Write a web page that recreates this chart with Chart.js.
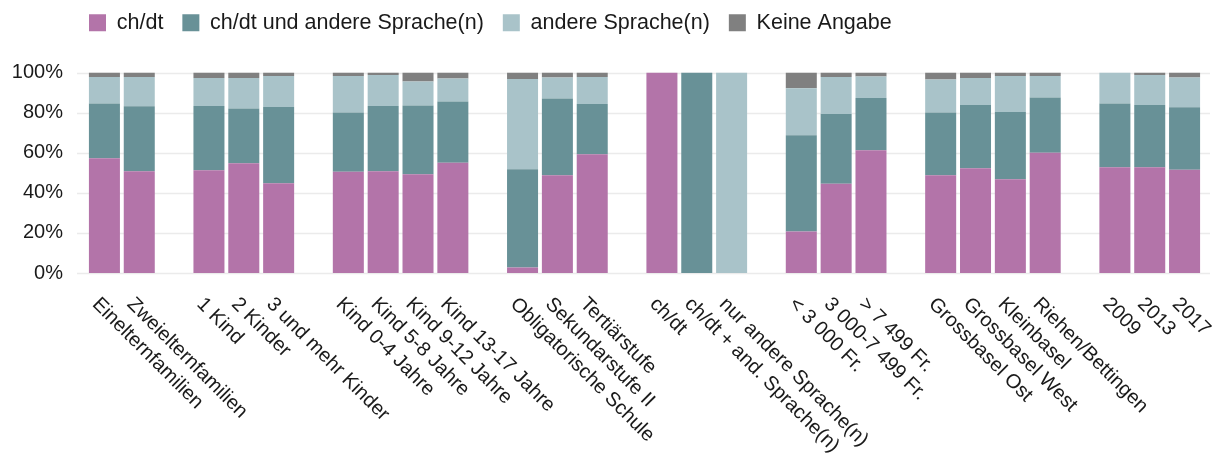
<!DOCTYPE html>
<html>
<head>
<meta charset="utf-8">
<script src="https://cdn.jsdelivr.net/npm/chart.js@4/dist/chart.umd.min.js"></script>
<style>
  html, body { margin: 0; padding: 0; background: #fff; }
  #wrap { width: 1213px; height: 466px; }
</style>
</head>
<body>
<div id="wrap"><canvas id="chart"></canvas></div>
<script>
// ---- data ----
// '' = empty slot between groups
const categories = [
  'Einelternfamilien', 'Zweielternfamilien', '',
  '1 Kind', '2 Kinder', '3 und mehr Kinder', '',
  'Kind 0-4 Jahre', 'Kind 5-8 Jahre', 'Kind 9-12 Jahre', 'Kind 13-17 Jahre', '',
  'Obligatorische Schule', 'Sekundarstufe II', 'Tertiärstufe', '',
  'ch/dt', 'ch/dt + and. Sprache(n)', 'nur andere Sprache(n)', '',
  '< 3 000 Fr.', '3 000-7 499 Fr.', '> 7 499 Fr.', '',
  'Grossbasel Ost', 'Grossbasel West', 'Kleinbasel', 'Riehen/Bettingen', '',
  '2009', '2013', '2017'
];

const chDt       = [57.2, 50.7, null, 51.3, 54.8, 44.8, null, 50.5, 50.7, 49.3, 55.0, null, 2.8, 48.8, 59.2, null, 100, null, null, null, 20.7, 44.5, 61.2, null, 48.8, 52.3, 46.8, 60.0, null, 52.8, 52.7, 51.5];
const chDtAndere = [27.3, 32.5, null, 32.0, 27.2, 38.0, null, 29.5, 32.6, 34.2, 30.5, null, 48.9, 38.2, 25.1, null, null, 100, null, null, 48.0, 34.8, 26.1, null, 31.2, 31.5, 33.5, 27.5, null, 31.7, 31.1, 31.2];
const andere     = [13.3, 14.6, null, 14.0, 15.3, 15.5, null, 18.3, 15.5, 12.0, 11.5, null, 45.0, 10.5, 13.5, null, null, null, 100, null, 23.5, 18.5, 10.7, null, 16.5, 13.5, 17.9, 10.8, null, 15.5, 14.9, 14.8];
const keine      = [2.2, 2.2, null, 2.7, 2.7, 1.7, null, 1.7, 1.2, 4.5, 3.0, null, 3.3, 2.5, 2.2, null, null, null, null, null, 7.8, 2.2, 2.0, null, 3.5, 2.7, 1.8, 1.7, null, null, 1.3, 2.5];

const seriesNames = ['ch/dt', 'ch/dt und andere Sprache(n)', 'andere Sprache(n)', 'Keine Angabe'];
const yTicks = [0, 20, 40, 60, 80, 100];

// ---- styles ----
const colors = ['#b374a9', '#689197', '#a9c3c9', '#808080'];
const FONT = 'Liberation Sans, Arial, sans-serif';
const LEGEND_SHIFT_Y = -29;
const LEGEND_SHIFT_X = 58;

// ============================================================
// Plugins
// ============================================================

// horizontal grid lines, a bit wider than the plot area (ggplot style)
const gridPlugin = {
  id: 'gridLines',
  beforeDatasetsDraw(chart) {
    const { ctx, chartArea, scales } = chart;
    ctx.save();
    ctx.strokeStyle = '#ebebeb';
    ctx.lineWidth = 1.5;
    yTicks.forEach(v => {
      const y = Math.round(scales.y.getPixelForValue(v)) + 0.5;
      ctx.beginPath();
      ctx.moveTo(chartArea.left - 10, y);
      ctx.lineTo(chartArea.right + 8, y);
      ctx.stroke();
    });
    ctx.restore();
  }
};

// x labels rotated 45deg clockwise, starting at the tick
const xLabelPlugin = {
  id: 'xLabels',
  afterDraw(chart) {
    const { ctx, scales } = chart;
    ctx.save();
    ctx.fillStyle = '#1a1a1a';
    ctx.font = '20px ' + FONT;
    ctx.textAlign = 'left';
    ctx.textBaseline = 'alphabetic';
    categories.forEach((lab, i) => {
      if (!lab) return;
      const x = scales.x.getPixelForValue(i);
      ctx.save();
      ctx.translate(x - 13, 305);
      ctx.rotate(Math.PI / 4);
      ctx.fillText(lab, 0, 0);
      ctx.restore();
    });
    ctx.restore();
  }
};

// move legend to where the reference has it
const legendShift = {
  id: 'legendShift',
  afterLayout(chart) {
    const lg = chart.legend;
    lg.top += LEGEND_SHIFT_Y;
    lg.bottom += LEGEND_SHIFT_Y;
    lg.left += LEGEND_SHIFT_X;
    lg.right += LEGEND_SHIFT_X;
  }
};

// ============================================================
// Chart
// ============================================================

const datasets = [chDt, chDtAndere, andere, keine].map((d, i) => ({
  label: seriesNames[i],
  data: d,
  backgroundColor: colors[i],
  borderWidth: 0,
  barPercentage: 0.89,
  categoryPercentage: 1.0
}));

new Chart(document.getElementById('chart'), {
  type: 'bar',
  data: { labels: categories, datasets: datasets },
  options: {
    responsive: true,
    maintainAspectRatio: false,
    animation: false,
    layout: { padding: { left: 12, right: 11, top: 22, bottom: 185 } },
    plugins: {
      tooltip: { enabled: false },
      legend: {
        position: 'top',
        align: 'start',
        labels: {
          boxWidth: 17,
          boxHeight: 17,
          padding: 19,
          color: '#1a1a1a',
          font: { family: FONT, size: 21.5 }
        }
      }
    },
    scales: {
      x: {
        stacked: true,
        grid: { display: false },
        border: { display: false },
        ticks: { display: false }
      },
      y: {
        stacked: true,
        min: 0,
        max: 100,
        afterFit(scale) { scale.width = 75; },
        grid: { display: false, drawTicks: false },
        border: { display: false },
        ticks: {
          stepSize: 20,
          padding: 24,
          color: '#1a1a1a',
          font: { family: FONT, size: 20 },
          callback: v => v + '%'
        }
      }
    }
  },
  plugins: [gridPlugin, xLabelPlugin, legendShift]
});
</script>
</body>
</html>
